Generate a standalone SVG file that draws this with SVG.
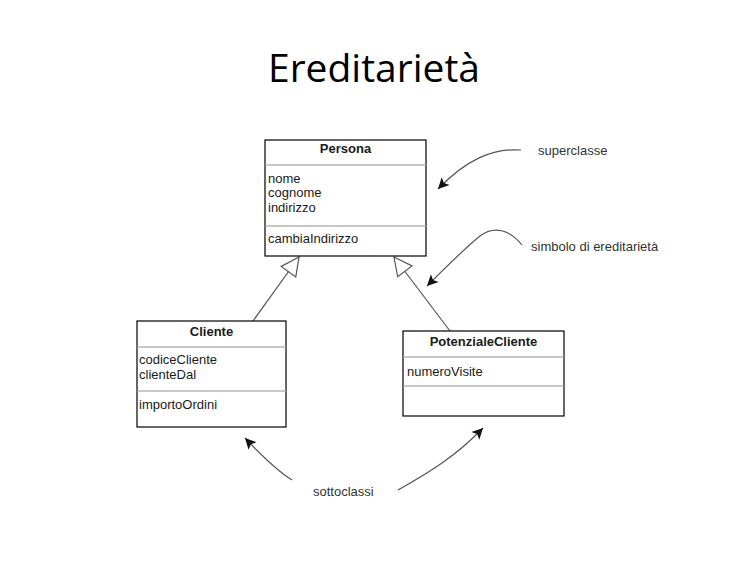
<svg xmlns="http://www.w3.org/2000/svg" width="756" height="562" viewBox="0 0 756 562">
<style>
.box{fill:#fff;stroke:#000;stroke-width:1.2}
.div{stroke:#c8c8c8;stroke-width:2}
.t{font-family:"Liberation Sans",Arial,sans-serif;font-size:13px;fill:#1a1a1a}
.b{font-weight:bold;text-anchor:middle}
.gen{fill:none;stroke:#555;stroke-width:1.2}
.ann{fill:none;stroke:#555;stroke-width:1.2}
.lbl{font-family:"Liberation Sans",Arial,sans-serif;font-size:13px;fill:#333}
</style>
<defs>
<marker id="tri" markerUnits="userSpaceOnUse" markerWidth="22" markerHeight="22" viewBox="-20 -11 22 22" refX="0" refY="0" orient="auto">
<path d="M0,0 L-18,-9 L-18,9 Z" fill="#fff" stroke="#555" stroke-width="1.2"/>
</marker>
<marker id="arr" markerUnits="userSpaceOnUse" markerWidth="14" markerHeight="14" viewBox="-12 -7 14 14" refX="0" refY="0" orient="auto">
<path d="M0,0 L-11,-5.5 L-8.5,0 L-11,5.5 Z" fill="#111"/>
</marker>
</defs>
<rect width="756" height="562" fill="#fff"/>
<text x="374" y="82" text-anchor="middle" font-family="'Open Sans','Noto Sans',sans-serif" font-size="38" fill="#000" textLength="212" lengthAdjust="spacingAndGlyphs">Ereditarietà</text>

<g id="connectors">
<path class="gen" d="M253,321 L299,257" marker-end="url(#tri)"/>
<path class="gen" d="M450,331 L394,257" marker-end="url(#tri)"/>
<path class="ann" d="M521,150 C492,148 466,160 438,189" marker-end="url(#arr)"/>
<path class="ann" d="M522,245 C510,230 494,225 480,236 C470,244 450,263 427,286" marker-end="url(#arr)"/>
<path class="ann" d="M292,480 C276,470 262,456 245,438" marker-end="url(#arr)"/>
<path class="ann" d="M398,490 C430,472 456,456 483,428" marker-end="url(#arr)"/>
</g>

<g id="persona">
<rect class="box" x="265" y="140" width="161" height="116"/>
<line class="div" x1="265.6" y1="165" x2="425.4" y2="165"/>
<line class="div" x1="265.6" y1="226" x2="425.4" y2="226"/>
<text class="t b" x="345.5" y="153">Persona</text>
<text class="t" x="268" y="183">nome</text>
<text class="t" x="268" y="197">cognome</text>
<text class="t" x="268" y="212">indirizzo</text>
<text class="t" x="268" y="243">cambiaIndirizzo</text>
</g>

<g id="cliente">
<rect class="box" x="137" y="321" width="149" height="106"/>
<line class="div" x1="137.6" y1="347" x2="285.4" y2="347"/>
<line class="div" x1="137.6" y1="391" x2="285.4" y2="391"/>
<text class="t b" x="211.5" y="336">Cliente</text>
<text class="t" x="139" y="364">codiceCliente</text>
<text class="t" x="139" y="379">clienteDal</text>
<text class="t" x="139" y="409">importoOrdini</text>
</g>

<g id="potenziale">
<rect class="box" x="403" y="331" width="161" height="85"/>
<line class="div" x1="403.6" y1="357" x2="563.4" y2="357"/>
<line class="div" x1="403.6" y1="386" x2="563.4" y2="386"/>
<text class="t b" x="483.5" y="346">PotenzialeCliente</text>
<text class="t" x="407" y="376">numeroVisite</text>
</g>

<g id="labels">
<text class="lbl" x="538" y="155">superclasse</text>
<text class="lbl" x="531" y="251">simbolo di ereditarietà</text>
<text class="lbl" x="313" y="496">sottoclassi</text>
</g>
</svg>
